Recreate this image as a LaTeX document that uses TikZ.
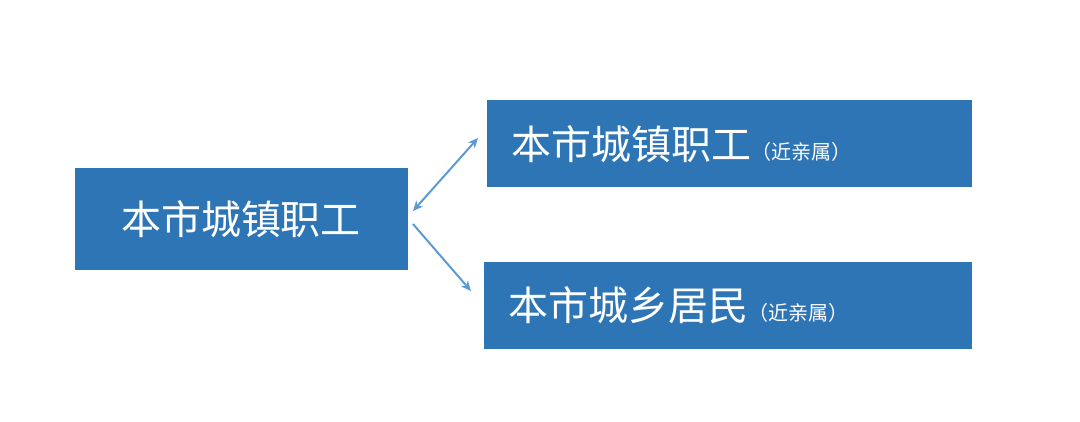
\documentclass[tikz,border=0pt]{standalone}
\usepackage{fontspec}
\newfontfamily\cjk{Noto Sans CJK SC}
\usetikzlibrary{arrows.meta}
\definecolor{boxblue}{HTML}{2E75B6}
\definecolor{arr}{HTML}{5B9BD5}
\begin{document}
\begin{tikzpicture}[x=1pt,y=-1pt,
  bx/.style={fill=boxblue,text=white,inner sep=0pt,font=\cjk\fontsize{40}{44}\selectfont},
  ar/.style={draw=arr,line width=2pt,-{Stealth[length=10pt,width=9pt]}}]
\useasboundingbox (0,0) rectangle (1080,422);
\fill[boxblue] (75,168) rectangle (408,270);
\node[text=white,font=\cjk\fontsize{40}{44}\selectfont] (a) at (241,219) {本市城镇职工};
\coordinate (aR) at (408,219);
\fill[boxblue] (487,100) rectangle (972,187);
\node[text=white,anchor=west,font=\cjk\fontsize{40}{44}\selectfont] (b) at (508,144) {本市城镇职工\fontsize{20}{22}\selectfont（近亲属）};
\fill[boxblue] (484,262) rectangle (972,349);
\node[text=white,anchor=west,font=\cjk\fontsize{40}{44}\selectfont] (c) at (505,305) {本市城乡居民\fontsize{20}{22}\selectfont（近亲属）};
\coordinate (p1) at (413,211);
\coordinate (p2) at (478,138);
\coordinate (p3) at (413,224);
\coordinate (p4) at (471,291);
\draw[ar,{Stealth[length=10pt,width=9pt]}-{Stealth[length=10pt,width=9pt]}] (p1) -- (p2);
\draw[ar] (p3) -- (p4);
\end{tikzpicture}
\end{document}
